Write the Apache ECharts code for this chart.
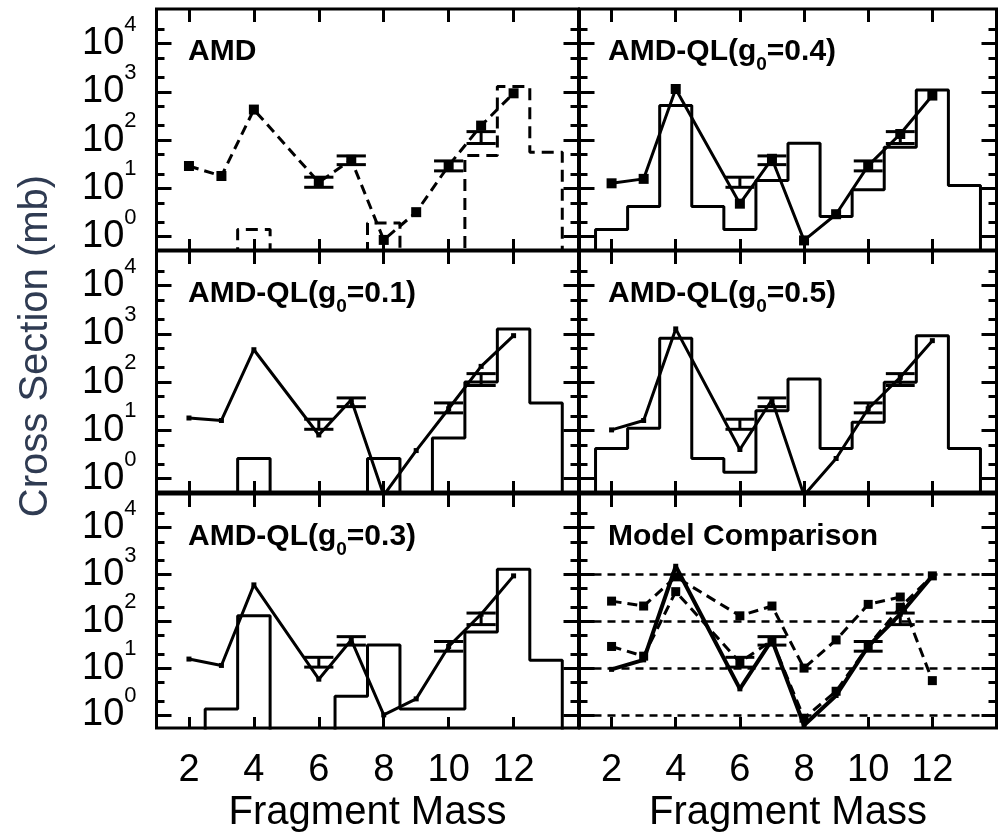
<!DOCTYPE html>
<html>
<head>
<meta charset="utf-8">
<title>Fragment mass distributions</title>
<script src="https://cdn.jsdelivr.net/npm/echarts@6/dist/echarts.min.js"></script>
<style>
html, body { margin: 0; padding: 0; background: #fff; }
#chart { width: 998px; height: 834px; }
</style>
</head>
<body>
<div id="chart"></div>
<script>
// fragment masses where the model curves have a point
const masses = [2, 3, 4, 6, 7, 8, 9, 10, 11, 12];
// histogram bins (mass 1 .. 14), 0 = nothing drawn
const bins = [1, 2, 3, 4, 5, 6, 7, 8, 9, 10, 11, 12, 13, 14];

// model curves (mb)
const amdLine  = [29, 18, 430, 13.3, 39, 0.85, 3.2, 29.6, 200, 935];
const ql01Line = [18, 16, 470, 8, 43, 0.45, 3.8, 28, 212, 920];
const ql03Line = [15.6, 11.4, 600, 5.8, 40, 1.0, 2.2, 29, 142, 935];
const ql04Line = [12.7, 15.7, 1150, 4.8, 41, 0.83, 2.9, 29.6, 134, 840];
const ql05Line = [10.2, 16, 1270, 4, 43, 0.45, 2.6, 28, 126, 725];
const compQlLine = [9.4, 15, 1500, 3.6, 40, 0.6, 2.6, 29, 142, 935];
const otherLine = [270, 212, 890, 131, 212, 10, 40, 230, 330, 5.4];

// histograms (mb)
const amdHist  = [0, 0, 0, 1.4, 0, 0, 0, 1.9, 0, 0, 48, 1290, 56, 0];
const ql01Hist = [0, 0, 0, 2.6, 0, 0, 0, 2.6, 0, 6.9, 100, 1260, 37, 0];
const ql03Hist = [0, 0, 1.33, 131, 0, 0, 2.5, 31, 1.33, 1.33, 59, 1290, 14.7, 0];
const ql04Hist = [0, 1.4, 4.2, 520, 4.2, 1.4, 14.5, 86, 2.6, 9.3, 71, 1100, 11.4, 0];
const ql05Hist = [0, 4.2, 11, 810, 2.6, 1.35, 25.6, 116, 4.2, 14.7, 99, 920, 4.2, 0];

// measured points with error bars
const expMass = [6, 7, 10, 11];
const expLow  = [10.5, 31, 23, 85];
const expHigh = [17, 47, 37, 150];

// axes
const xTicks = [2, 4, 6, 8, 10, 12];
const yMajor = [1, 10, 100, 1000, 10000];
const yMinor = [2, 5, 20, 50, 200, 500, 2000, 5000, 20000];
// decade labels, split in two sets so no two labels on one axis are neighbours
const yExponentsEven = [0, 2, 4];
const yExponentsOdd = [1, 3];
const compGrid = [1, 10, 100, 1000];

const FONT = 'Liberation Sans, Arial, Helvetica, sans-serif';
const Y_MIN = 0.525, Y_MAX = 52500;
const Y_AXES_PER_GRID = 6;

const cols = [{ left: 156.5, width: 422, titleX: 31.5 }, { left: 579.5, width: 417, titleX: 28.5 }];
const rows = [{ top: 9, height: 241 }, { top: 251, height: 241 }, { top: 494, height: 241 }];

const panels = [
    { title: '{m|AMD}', row: 0, col: 0, lines: [{ data: amdLine, dash: true, size: 10 }], hist: amdHist, histDash: true },
    { title: '{m|AMD-QL(g}{s|0}{m|=0.4)}', row: 0, col: 1, lines: [{ data: ql04Line, size: 10 }], hist: ql04Hist },
    { title: '{m|AMD-QL(g}{s|0}{m|=0.1)}', row: 1, col: 0, lines: [{ data: ql01Line, size: 5 }], hist: ql01Hist },
    { title: '{m|AMD-QL(g}{s|0}{m|=0.5)}', row: 1, col: 1, lines: [{ data: ql05Line, size: 5 }], hist: ql05Hist },
    { title: '{m|AMD-QL(g}{s|0}{m|=0.3)}', row: 2, col: 0, lines: [{ data: ql03Line, size: 5 }], hist: ql03Hist },
    { title: '{m|Model Comparison}', row: 2, col: 1, lines: [
        { data: otherLine, dash: true, size: 9 },
        { data: amdLine, dash: true, size: 9 },
        { data: compQlLine, size: 5, width: 4 }
    ], hist: null, gridLines: true }
];

function stepPoints(hist) {
    const pts = [];
    hist.forEach(function (v, i) {
        const y = v > 0 ? v : 0.01;
        pts.push([bins[i] - 0.5, y], [bins[i] + 0.5, y]);
    });
    return pts;
}

function errorBars(idx) {
    return {
        type: 'custom',
        xAxisIndex: 2 * idx,
        yAxisIndex: Y_AXES_PER_GRID * idx,
        data: expMass.map(function (m, i) { return [m, expLow[i], expHigh[i]]; }),
        encode: { x: 0, y: [1, 2] },
        z: 5,
        renderItem: function (params, api) {
            const m = api.value(0);
            const lo = api.coord([m, api.value(1)]);
            const hi = api.coord([m, api.value(2)]);
            const half = (api.coord([m + 0.45, 1])[0] - api.coord([m - 0.45, 1])[0]) / 2;
            const style = { stroke: '#000', lineWidth: 3 };
            return {
                type: 'group',
                children: [
                    { type: 'line', shape: { x1: lo[0], y1: lo[1], x2: hi[0], y2: hi[1] }, style: style },
                    { type: 'line', shape: { x1: lo[0] - half, y1: lo[1], x2: lo[0] + half, y2: lo[1] }, style: style },
                    { type: 'line', shape: { x1: hi[0] - half, y1: hi[1], x2: hi[0] + half, y2: hi[1] }, style: style }
                ]
            };
        }
    };
}

const tickStyle = { color: '#000', width: 3 };
const grid = [], xAxis = [], yAxis = [], series = [], title = [];

panels.forEach(function (p, i) {
    const c = cols[p.col], r = rows[p.row];
    const yBase = Y_AXES_PER_GRID * i;
    grid.push({
        left: c.left, top: r.top, width: c.width, height: r.height,
        show: true, borderColor: '#000', borderWidth: 3
    });

    const bottomRow = p.row === 2;
    ['bottom', 'top'].forEach(function (pos) {
        const labelled = bottomRow && pos === 'bottom';
        xAxis.push({
            type: 'value', gridIndex: i, position: pos, min: 1, max: 14,
            axisLine: { show: false, onZero: false },
            splitLine: { show: false },
            axisTick: { show: true, inside: true, length: pos === 'top' ? 13 : 11, customValues: xTicks, lineStyle: tickStyle },
            axisLabel: {
                show: labelled, customValues: xTicks, margin: 24,
                fontSize: 38, color: '#000', fontFamily: FONT
            },
            name: labelled ? 'Fragment Mass' : '',
            nameLocation: 'middle', nameGap: 65,
            nameTextStyle: { fontSize: 40, color: '#000', fontFamily: FONT }
        });
    });

    // log axes: major and minor ticks on both sides
    ['left', 'right'].forEach(function (pos) {
        [[yMajor, 15], [yMinor, 8]].forEach(function (t) {
            yAxis.push({
                type: 'log', gridIndex: i, position: pos, min: Y_MIN, max: Y_MAX,
                axisLine: { show: false, onZero: false },
                splitLine: { show: false },
                axisTick: { show: true, inside: true, length: t[1], customValues: t[0], lineStyle: tickStyle },
                axisLabel: { show: false }
            });
        });
    });
    // labels only: linear axes in decades, lined up with the log axes
    [yExponentsEven, yExponentsOdd].forEach(function (exps) {
        yAxis.push({
            type: 'value', gridIndex: i, position: 'left',
            min: Math.log10(Y_MIN), max: Math.log10(Y_MAX),
            axisLine: { show: false, onZero: false },
            splitLine: { show: false },
            axisTick: { show: false },
            axisLabel: {
                show: p.col === 0, customValues: exps, margin: 20,
                showMinLabel: true, showMaxLabel: true, hideOverlap: false,
                formatter: function (v) { return '{b|10}{s|' + Math.round(v) + '}'; },
                rich: {
                    // negative top padding lifts the exponent
                    b: { fontSize: 38, lineHeight: 30, color: '#000', fontFamily: FONT },
                    s: { fontSize: 22, lineHeight: 7, padding: [-15, 0, 0, 0], verticalAlign: 'top', color: '#000', fontFamily: FONT }
                }
            }
        });
    });

    title.push({
        text: p.title, left: c.left + c.titleX, top: r.top + 19.5, padding: 0,
        textStyle: {
            rich: {
                m: { fontSize: 30, fontWeight: 'bold', lineHeight: 46, color: '#000', fontFamily: FONT },
                s: { fontSize: 19, fontWeight: 'bold', lineHeight: 19, verticalAlign: 'bottom', color: '#000', fontFamily: FONT }
            }
        }
    });

    if (p.hist) {
        series.push({
            type: 'line', xAxisIndex: 2 * i, yAxisIndex: yBase,
            data: stepPoints(p.hist), symbol: 'none', clip: true,
            lineStyle: { color: '#000', width: 3, type: p.histDash ? [12, 7] : 'solid' },
            z: 3
        });
    }

    p.lines.forEach(function (l, k) {
        const s = {
            type: 'line', xAxisIndex: 2 * i, yAxisIndex: yBase,
            data: masses.map(function (m, j) { return [m, l.data[j]]; }),
            symbol: 'rect', symbolSize: l.size, clip: true,
            itemStyle: { color: '#000' },
            lineStyle: { color: '#000', width: l.width || 3, type: l.dash ? [10, 6] : 'solid' },
            z: 4
        };
        if (p.gridLines && k === 0) {
            s.markLine = {
                symbol: 'none', silent: true, label: { show: false },
                lineStyle: { color: '#000', width: 2.5, type: [8, 6] },
                data: compGrid.map(function (v) { return { yAxis: v }; })
            };
        }
        series.push(s);
    });

    series.push(errorBars(i));
});

const chart = echarts.init(document.getElementById('chart'));
chart.setOption({
    backgroundColor: '#fff',
    animation: false,
    title: title,
    grid: grid,
    xAxis: xAxis,
    yAxis: yAxis,
    series: series,
    graphic: [{
        type: 'text', x: 36, y: 346, rotation: Math.PI / 2,
        style: {
            text: 'Cross Section (mb)', fontSize: 40, fontFamily: FONT, fill: '#2f3b52',
            align: 'center', verticalAlign: 'middle', textAlign: 'center', textVerticalAlign: 'middle'
        }
    }]
});
</script>
</body>
</html>
